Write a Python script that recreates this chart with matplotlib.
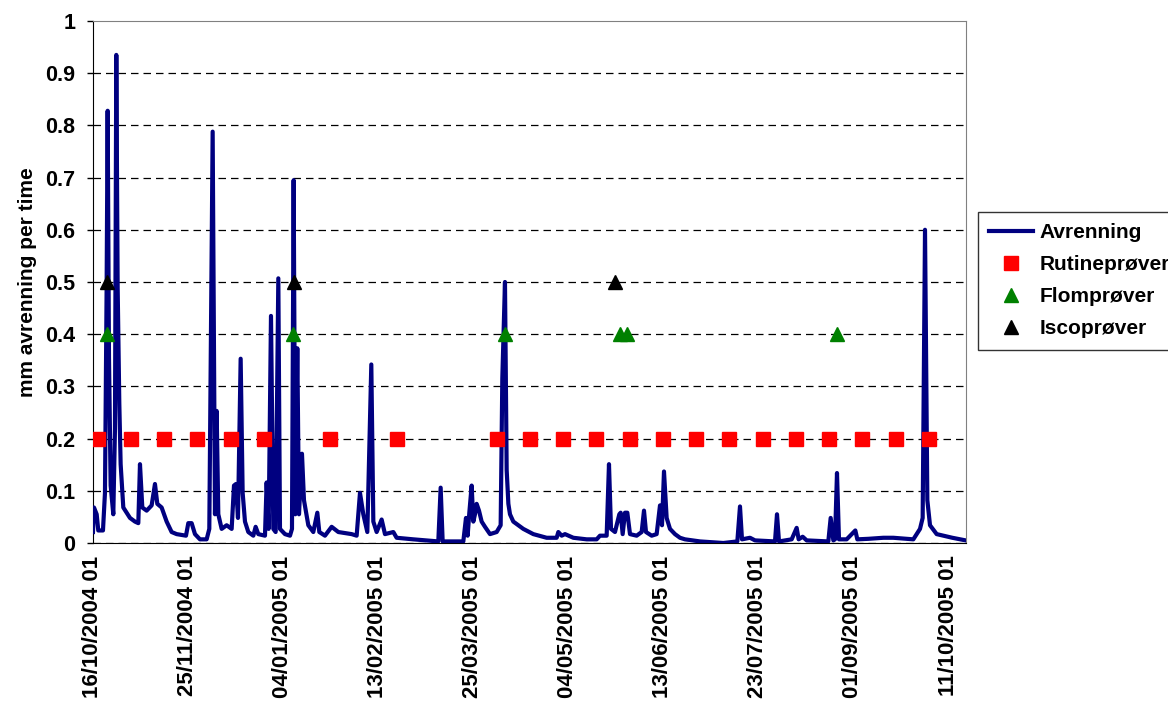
import pandas as pd
import matplotlib
matplotlib.use('Agg')
import matplotlib.pyplot as plt
import matplotlib.dates as mdates
from matplotlib.ticker import FuncFormatter

plt.rcParams['font.family'] = ['Liberation Sans', 'DejaVu Sans']
plt.rcParams['font.weight'] = 'bold'

# Tidspunkt er lest av som dager etter 16/10/2004 01:00
start = pd.Timestamp('2004-10-16 01:00')

# Avrenning (mm per time)
avr_dag = [0.0, 0.42, 1.56, 2.23, 4.21, 5.05, 5.75, 6.18, 6.74, 7.44, 8.56, 9.26, 9.82, 10.39,
           11.09, 11.65, 12.77, 15.58, 17.68, 19.09, 19.79, 20.77, 22.6, 24.7, 26.1, 27.09,
           28.91, 31.02, 33.12, 35.23, 39.16, 40.14, 41.54, 42.95, 45.05, 47.86, 48.98, 50.39,
           51.37, 52.07, 52.77, 54.18, 56.28, 58.39, 59.37, 60.21, 61.05, 62.18, 63.02, 64.0,
           65.4, 67.51, 68.49, 69.61, 72.42, 73.12, 73.96, 74.95, 75.93, 76.91, 78.04, 78.74,
           80.84, 82.95, 83.79, 84.49, 85.19, 86.03, 86.74, 88.0, 88.84, 90.67, 92.77, 94.46,
           95.3, 97.68, 100.49, 103.3, 108.91, 111.02, 112.42, 113.82, 115.51, 117.19, 118.04,
           119.44, 121.54, 122.95, 126.46, 127.86, 134.88, 145.4, 146.39, 147.23, 155.93,
           157.05, 157.75, 158.46, 159.44, 160.14, 160.84, 161.54, 162.53, 163.65, 165.05,
           167.16, 169.96, 171.65, 172.35, 173.47, 174.18, 174.9, 175.58, 176.98, 181.19, 185.4,
           191.02, 195.23, 195.93, 197.33, 198.74, 202.25, 207.86, 212.07, 213.47, 216.28,
           217.26, 218.11, 219.79, 221.61, 222.18, 223.02, 224.0, 224.98, 226.11, 228.91,
           231.02, 232.0, 232.84, 235.23, 237.33, 238.74, 239.58, 240.42, 241.54, 242.95,
           245.05, 247.16, 249.26, 255.58, 265.4, 271.3, 272.42, 273.26, 276.63, 278.74,
           287.16, 288.0, 288.84, 294.18, 296.28, 297.12, 298.81, 300.49, 309.61, 310.6,
           311.72, 312.42, 313.26, 314.1, 317.33, 320.98, 321.82, 326.46, 332.77, 336.98,
           345.4, 348.21, 349.33, 350.32, 351.3, 352.42, 355.23, 358.04, 361.82, 367.4]
avr_mm = [0.021, 0.068, 0.055, 0.024, 0.024, 0.096, 0.49, 0.828, 0.356, 0.11, 0.055, 0.219, 0.935, 0.49,
          0.267, 0.151, 0.068, 0.048, 0.041, 0.038, 0.151, 0.068, 0.062, 0.072, 0.113, 0.075,
          0.068, 0.041, 0.021, 0.017, 0.014, 0.038, 0.038, 0.017, 0.007, 0.007, 0.027, 0.788,
          0.055, 0.253, 0.055, 0.027, 0.034, 0.027, 0.11, 0.113, 0.048, 0.353, 0.096, 0.041,
          0.021, 0.014, 0.031, 0.017, 0.014, 0.116, 0.027, 0.435, 0.027, 0.021, 0.507, 0.027,
          0.017, 0.014, 0.027, 0.695, 0.055, 0.373, 0.055, 0.171, 0.082, 0.034, 0.021, 0.058,
          0.021, 0.014, 0.031, 0.021, 0.017, 0.014, 0.096, 0.055, 0.021, 0.342, 0.041,
          0.021, 0.045, 0.017, 0.021, 0.01, 0.007, 0.003, 0.106, 0.003, 0.003,
          0.048, 0.014, 0.058, 0.11, 0.041, 0.055, 0.075, 0.062, 0.041, 0.031,
          0.017, 0.021, 0.034, 0.315, 0.5, 0.14, 0.075, 0.055, 0.041, 0.027, 0.017,
          0.01, 0.01, 0.021, 0.014, 0.017, 0.01, 0.007, 0.007, 0.014, 0.014,
          0.151, 0.027, 0.021, 0.055, 0.058, 0.017, 0.058, 0.058, 0.017, 0.014,
          0.021, 0.062, 0.021, 0.014, 0.017, 0.072, 0.034, 0.137, 0.048, 0.027,
          0.017, 0.01, 0.007, 0.003, 0.0, 0.003, 0.07, 0.007, 0.01, 0.005,
          0.003, 0.055, 0.003, 0.007, 0.029, 0.007, 0.012, 0.005, 0.003, 0.048,
          0.005, 0.007, 0.134, 0.007, 0.007, 0.024, 0.007, 0.008, 0.01, 0.01,
          0.007, 0.027, 0.048, 0.6, 0.082, 0.034, 0.017, 0.014, 0.01, 0.005]

# Prøvetaking
rutine_dato = ['2004-10-18', '2004-11-01', '2004-11-15', '2004-11-29', '2004-12-13', '2004-12-27',
               '2005-01-24', '2005-02-21', '2005-04-04', '2005-04-18', '2005-05-02', '2005-05-16',
               '2005-05-30', '2005-06-13', '2005-06-27', '2005-07-11', '2005-07-25', '2005-08-08',
               '2005-08-22', '2005-09-05', '2005-09-19', '2005-10-03']
rutine_verdi = [0.2] * len(rutine_dato)
flom_dag = [5.8, 84.4, 173.5, 221.9, 224.7, 313.1]
flom_verdi = [0.4] * len(flom_dag)
isco_dag = [5.8, 84.8, 219.8]
isco_verdi = [0.5] * len(isco_dag)

t_avr = start + pd.to_timedelta(avr_dag, unit='D')
t_rutine = pd.to_datetime(rutine_dato) + pd.Timedelta(hours=1)
t_flom = start + pd.to_timedelta(flom_dag, unit='D')
t_isco = start + pd.to_timedelta(isco_dag, unit='D')

fig = plt.figure(figsize=(11.68, 7.11), dpi=100)
ax = fig.add_axes([0.0796, 0.2363, 0.7475, 0.7342])

ax.plot(t_avr, avr_mm, color='#000080', lw=3.0, label='Avrenning', zorder=3,
        solid_joinstyle='round')
ax.plot(t_rutine, rutine_verdi, ls='none', marker='s', ms=10.5, color='#FF0000',
        label='Rutineprøver', zorder=4)
ax.plot(t_flom, flom_verdi, ls='none', marker='^', ms=10, color='#008000',
        label='Flomprøver', zorder=4)
ax.plot(t_isco, isco_verdi, ls='none', marker='^', ms=10, color='black',
        label='Iscoprøver', zorder=4)

ax.set_xlim(start, start + pd.Timedelta(days=367.6))
ax.set_ylim(0, 1)
ax.set_yticks([i / 10 for i in range(11)])
ax.yaxis.set_major_formatter(FuncFormatter(lambda v, p: f'{v:g}'))
ax.set_xticks(start + pd.to_timedelta([40 * i for i in range(10)], unit='D'))
ax.xaxis.set_major_formatter(mdates.DateFormatter('%d/%m/%Y %H'))
ax.tick_params(axis='x', length=0, pad=9, labelsize=16, labelrotation=90)
ax.tick_params(axis='y', length=4.5, width=1, labelsize=15.5, pad=8)
for lab in ax.get_xticklabels() + ax.get_yticklabels():
    lab.set_fontweight('bold')

ax.yaxis.grid(True, color='black', ls=(0, (6, 4)), lw=0.9)
ax.yaxis.get_gridlines()[-1].set_visible(False)
ax.set_axisbelow(True)
ax.spines['top'].set_color('#808080')
ax.spines['right'].set_color('#808080')
ax.set_ylabel('mm avrenning per time', fontsize=15, fontweight='bold', labelpad=6)

leg = ax.legend(loc='upper left', bbox_to_anchor=(978 / 1168, 1 - 212 / 711),
                bbox_transform=fig.transFigure, fontsize=15, frameon=True, fancybox=False,
                edgecolor='black', handlelength=2.1, handletextpad=0.3, labelspacing=0.62,
                borderpad=0.55, borderaxespad=0)
leg.get_frame().set_linewidth(1.0)
for txt in leg.get_texts():
    txt.set_fontweight('bold')

fig.savefig('out.png', dpi=100)
